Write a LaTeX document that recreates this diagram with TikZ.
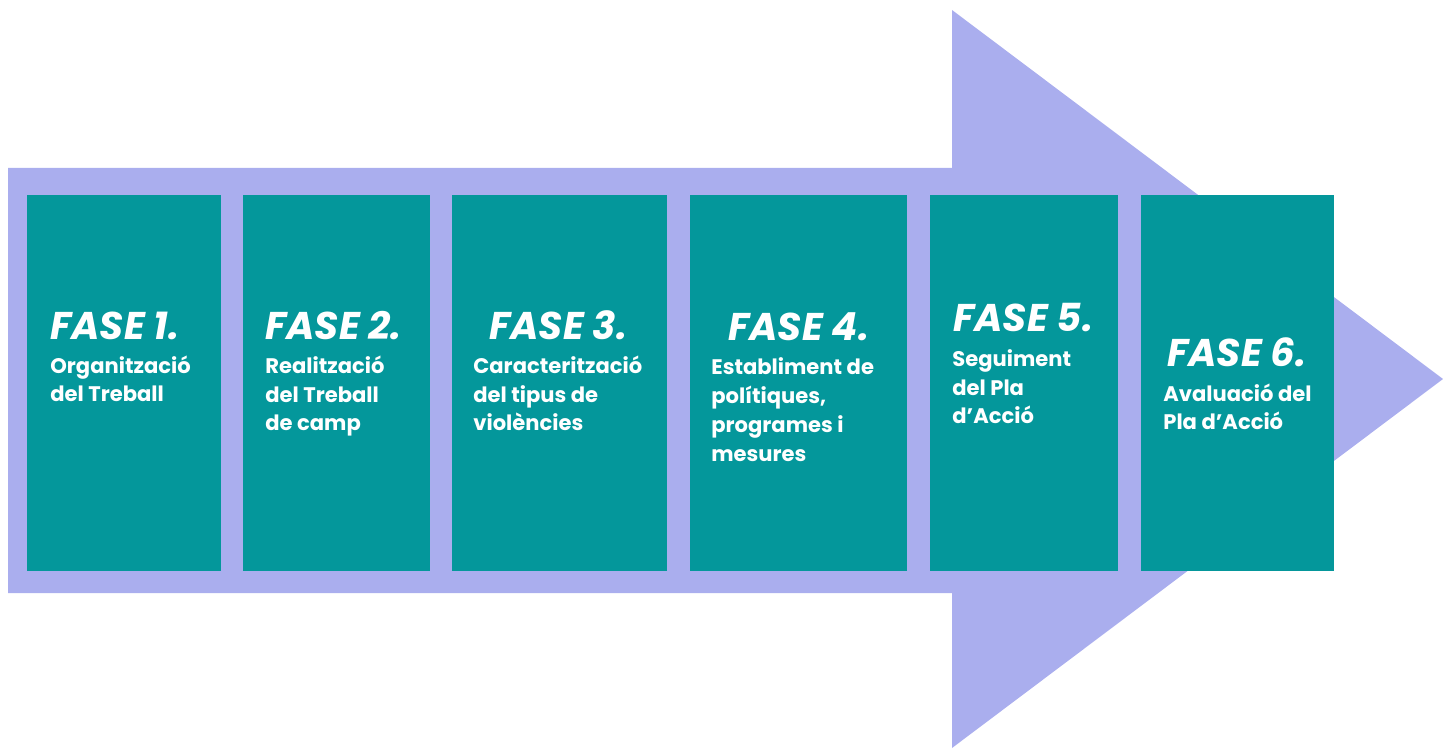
\documentclass[tikz,border=0pt]{standalone}
\usepackage{fontspec}
\setmainfont{Poppins}
\definecolor{lavanda}{RGB}{170,174,238}
\definecolor{fasecolor}{RGB}{4,151,155}
\tikzset{
  fasebox/.style={fill=fasecolor, draw=none, anchor=north west, inner sep=0pt, minimum height=7.52cm},
  fasetitle/.style={text=white, anchor=base west, inner sep=0pt, font=\bfseries\itshape\fontsize{22}{26}\selectfont},
  fasetext/.style={text=white, anchor=base west, inner sep=0pt, align=left, font=\bfseries\fontsize{12}{16.5}\selectfont}
}
\begin{document}
\begin{tikzpicture}[x=0.02cm,y=-0.02cm]
  \useasboundingbox (0,0) rectangle (1443,749);
  % big arrow
  \fill[lavanda] (8,168) -- (952,168) -- (952,10) -- (1443,379) -- (952,748) -- (952,593) -- (8,593) -- cycle;

  % phase boxes
  \node[fasebox, minimum width=3.88cm] (box1) at (27,195) {};
  \node[fasebox, minimum width=3.74cm] (box2) at (243,195) {};
  \node[fasebox, minimum width=4.30cm] (box3) at (452,195) {};
  \node[fasebox, minimum width=4.34cm] (box4) at (690,195) {};
  \node[fasebox, minimum width=3.76cm] (box5) at (930,195) {};
  \node[fasebox, minimum width=3.86cm] (box6) at (1141,195) {};

  \node[fasetitle] (fase1) at (50,340) {FASE 1.};
  \node[fasetitle] (fase2) at (265,340) {FASE 2.};
  \node[fasetitle] (fase3) at (489,340) {FASE 3.};
  \node[fasetitle] (fase4) at (728,341) {FASE 4.};
  \node[fasetitle] (fase5) at (953,332) {FASE 5.};
  \node[fasetitle] (fase6) at (1167,367) {FASE 6.};

  % descriptions (base = last line)
  \node[fasetext] (desc1) at (50,402) {Organització\\del Treball};
  \node[fasetext] (desc2) at (265,431) {Realització\\del Treball\\de camp};
  \node[fasetext] (desc3) at (473,431) {Caracterització\\del tipus de\\violències};
  \node[fasetext] (desc4) at (711,461) {Establiment de\\polítiques,\\programes i\\mesures};
  \node[fasetext] (desc5) at (952,424) {Seguiment\\del Pla\\d’Acció};
  \node[fasetext] (desc6) at (1163,430) {Avaluació del\\Pla d’Acció};
\end{tikzpicture}
\end{document}
